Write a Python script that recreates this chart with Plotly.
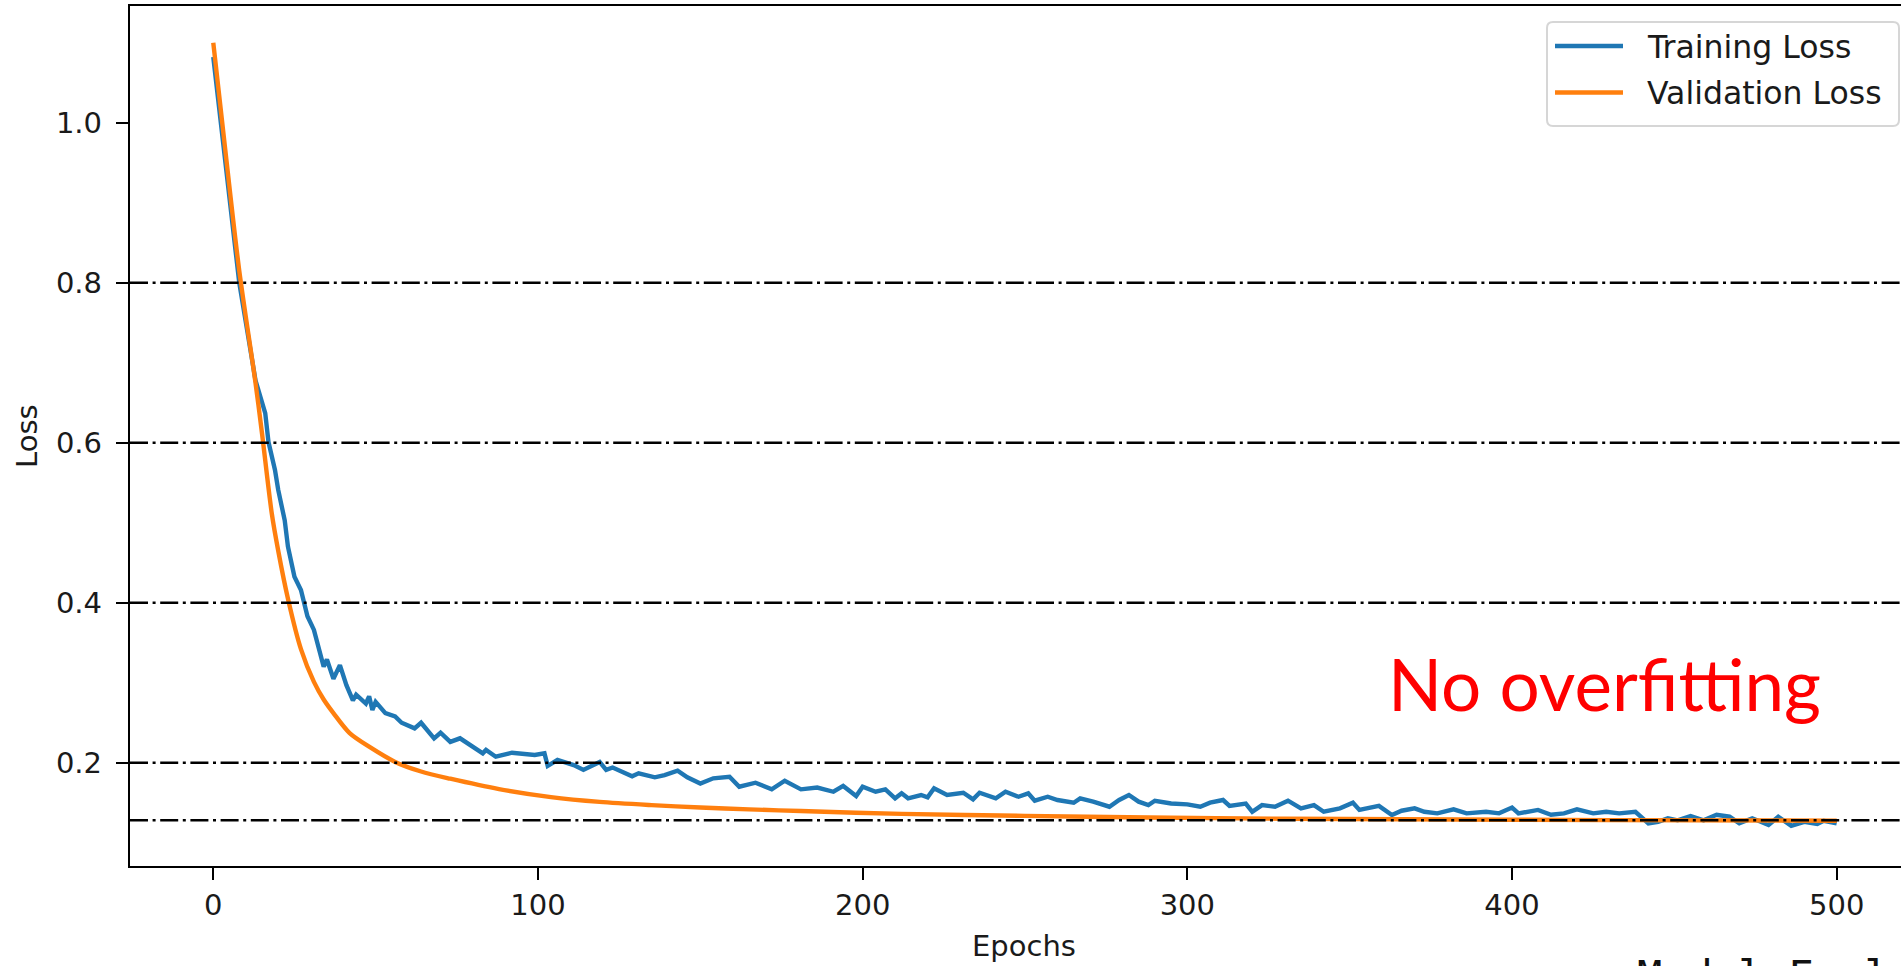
import plotly.graph_objects as go

# ---------------- data ----------------
train_epochs = [0, 4, 8, 13, 16, 17, 19, 20, 22, 23, 25, 27, 28, 29, 31, 33, 34, 35, 37, 39,
                41, 43, 44, 47, 48, 49, 50, 53, 56, 58, 62, 64, 68, 70, 73, 76, 79, 83, 84, 87,
                92, 99, 102, 103, 106, 111, 114, 119, 121, 123, 129, 131, 136, 139, 143, 146, 150, 154, 159, 162,
                167, 172, 176, 181, 186, 191, 194, 198, 200, 204, 207, 210, 212, 214, 218, 220, 222, 226, 231, 234,
                236, 241, 244, 248, 251, 253, 257, 260, 265, 267, 271, 276, 279, 282, 285, 288, 290, 295, 300, 304,
                307, 311, 313, 318, 320, 323, 327, 331, 335, 339, 342, 347, 351, 353, 359, 363, 366, 370, 373, 377,
                382, 386, 392, 396, 400, 402, 408, 412, 416, 420, 425, 429, 433, 438, 442, 445, 448, 451, 455, 459,
                463, 467, 470, 474, 479, 482, 486, 490, 494, 496, 500]
train_loss = [1.082, 0.940, 0.800, 0.678, 0.637, 0.601, 0.566, 0.541, 0.503, 0.470, 0.4325, 0.416, 0.400, 0.383, 0.366, 0.337, 0.320, 0.329, 0.305, 0.322,
              0.297, 0.278, 0.285, 0.274, 0.283, 0.266, 0.276, 0.262, 0.258, 0.250, 0.243, 0.250, 0.2305, 0.2375, 0.226, 0.2305, 0.222, 0.2117, 0.216, 0.2075,
              0.2125, 0.2096, 0.2117, 0.196, 0.2034, 0.197, 0.191, 0.201, 0.191, 0.194, 0.183, 0.1867, 0.1817, 0.1846, 0.190, 0.1817, 0.174, 0.1805, 0.1825, 0.170,
              0.175, 0.1667, 0.1775, 0.1667, 0.169, 0.1637, 0.171, 0.1584, 0.170, 0.1637, 0.1667, 0.1555, 0.1617, 0.1555, 0.1596, 0.1567, 0.168, 0.1596, 0.1625, 0.1542,
              0.1625, 0.1555, 0.1637, 0.1575, 0.1617, 0.1525, 0.1575, 0.1534, 0.150, 0.1555, 0.1513, 0.145, 0.1534, 0.1596, 0.1513, 0.147, 0.1525, 0.149, 0.148, 0.145,
              0.150, 0.1534, 0.146, 0.149, 0.1387, 0.147, 0.145, 0.1525, 0.143, 0.147, 0.1387, 0.143, 0.150, 0.141, 0.146, 0.1346, 0.140, 0.143, 0.1387, 0.1367,
              0.1417, 0.1367, 0.1387, 0.1367, 0.144, 0.1367, 0.141, 0.135, 0.1367, 0.1417, 0.1367, 0.1387, 0.1367, 0.1387, 0.1242, 0.126, 0.1305, 0.128, 0.1334, 0.128,
              0.135, 0.1325, 0.1242, 0.1305, 0.1221, 0.1325, 0.121, 0.126, 0.1234, 0.1275, 0.1242]

val_epochs = [0, 4, 8, 13, 15, 18, 20, 23, 27, 31, 34, 37, 42, 48, 56, 64, 73, 88, 104, 119,
              135, 150, 165, 181, 212, 250, 288, 330, 366, 430, 500]
val_loss = [1.100, 0.955, 0.815, 0.675, 0.612, 0.512, 0.465, 0.405, 0.342, 0.301, 0.279, 0.262, 0.237, 0.220, 0.201, 0.189, 0.180, 0.167, 0.157, 0.151,
            0.147, 0.144, 0.1417, 0.1396, 0.136, 0.1335, 0.1315, 0.130, 0.1293, 0.1283, 0.1275]

series_names = ["Training Loss", "Validation Loss"]
ref_lines = [0.8, 0.6, 0.4, 0.2, 0.128]
x_ticks = [0, 100, 200, 300, 400, 500]
y_ticks = [0.2, 0.4, 0.6, 0.8, 1.0]
note_text = "No overfitting"
cut_text = "Model Eval"

# ---------------- layout geometry ----------------
W, H = 1901, 966
L, T, B, R = 130, 6, 100, 0
PW, PH = W - L - R, H - T - B

def px(x):
    return (x - L) / PW

def py(y):
    return 1 - (y - T) / PH

BLUE = "#1f77b4"
ORANGE = "#ff7f0e"
TXT = "#1a1a1a"

fig = go.Figure()
fig.add_trace(go.Scatter(x=train_epochs, y=train_loss, mode="lines", name=series_names[0],
                         line=dict(color=BLUE, width=4.4), showlegend=False))
fig.add_trace(go.Scatter(x=val_epochs, y=val_loss, mode="lines", name=series_names[1],
                         line=dict(color=ORANGE, width=4.4, shape="spline", smoothing=0.8), showlegend=False))

shapes = []
for v in ref_lines:
    shapes.append(dict(type="line", xref="paper", yref="y", x0=0, x1=1, y0=v, y1=v,
                       line=dict(color="black", width=2.6, dash="18px,4.6px,3px,4.6px"), layer="above"))

# legend box (matplotlib style, rounded)
bx0, bx1, by0, by1, r = 1547, 1899, 22, 126, 6
pts = (f"M {px(bx0 + r)},{py(by0)} L {px(bx1 - r)},{py(by0)} Q {px(bx1)},{py(by0)} {px(bx1)},{py(by0 + r)} "
       f"L {px(bx1)},{py(by1 - r)} Q {px(bx1)},{py(by1)} {px(bx1 - r)},{py(by1)} "
       f"L {px(bx0 + r)},{py(by1)} Q {px(bx0)},{py(by1)} {px(bx0)},{py(by1 - r)} "
       f"L {px(bx0)},{py(by0 + r)} Q {px(bx0)},{py(by0)} {px(bx0 + r)},{py(by0)} Z")
shapes.append(dict(type="path", xref="paper", yref="paper", path=pts,
                   fillcolor="rgba(255,255,255,0.85)", line=dict(color="#d6d6d6", width=2), layer="above"))
rows = [46, 92.5]
colors = [BLUE, ORANGE]
annotations = []
for name, c, ry in zip(series_names, colors, rows):
    shapes.append(dict(type="line", xref="paper", yref="paper", x0=px(1555), x1=px(1623), y0=py(ry), y1=py(ry),
                       line=dict(color=c, width=4.4), layer="above"))
    annotations.append(dict(text=name, xref="paper", yref="paper", x=px(1645), y=py(ry + 1), xanchor="left",
                            yanchor="middle", showarrow=False,
                            font=dict(family="DejaVu Sans", size=31.5, color=TXT)))

# axis titles
annotations.append(dict(text="Epochs", xref="paper", yref="paper", x=px(1024), y=py(946), xanchor="center",
                        yanchor="middle", showarrow=False, font=dict(family="DejaVu Sans", size=29, color=TXT)))
annotations.append(dict(text="Loss", xref="paper", yref="paper", x=px(27), y=py(436), xanchor="center",
                        yanchor="middle", showarrow=False, textangle=-90,
                        font=dict(family="DejaVu Sans", size=29, color=TXT)))
# red note
annotations.append(dict(text=note_text, xref="paper", yref="paper", x=px(1604), y=py(683), xanchor="center",
                        yanchor="middle", showarrow=False, font=dict(family="Lato", size=71, color="#ff0000")))
# cut-off text at the bottom edge
annotations.append(dict(text=cut_text, xref="paper", yref="paper", x=px(1635), y=py(976), xanchor="left",
                        yanchor="middle", showarrow=False,
                        font=dict(family="DejaVu Sans Mono", size=42, color="#111111")))

fig.update_layout(
    width=W, height=H, autosize=False,
    margin=dict(l=L, r=R, t=T, b=B, pad=0),
    paper_bgcolor="white", plot_bgcolor="white",
    shapes=shapes, annotations=annotations,
    showlegend=False,
    xaxis=dict(range=[-25.65, 519.8], tickvals=x_ticks, ticktext=[str(t) for t in x_ticks],
               showgrid=False, zeroline=False, showline=True, mirror=True, linecolor="black", linewidth=2.4,
               ticks="outside", ticklen=12, tickwidth=2.2, tickcolor="black", ticklabelstandoff=0,
               tickfont=dict(family="DejaVu Sans", size=29, color=TXT)),
    yaxis=dict(range=[0.0709, 1.1459], tickvals=y_ticks, ticktext=[f"{t:.1f}" for t in y_ticks],
               showgrid=False, zeroline=False, showline=True, mirror=False, linecolor="black", linewidth=2.4,
               ticks="outside", ticklen=12, tickwidth=2.2, tickcolor="black", ticklabelstandoff=8,
               tickfont=dict(family="DejaVu Sans", size=29, color=TXT)),
)

fig.write_html("out.html", config={"displayModeBar": False},
               post_script="document.body.style.margin='0';document.body.style.overflow='hidden';")
